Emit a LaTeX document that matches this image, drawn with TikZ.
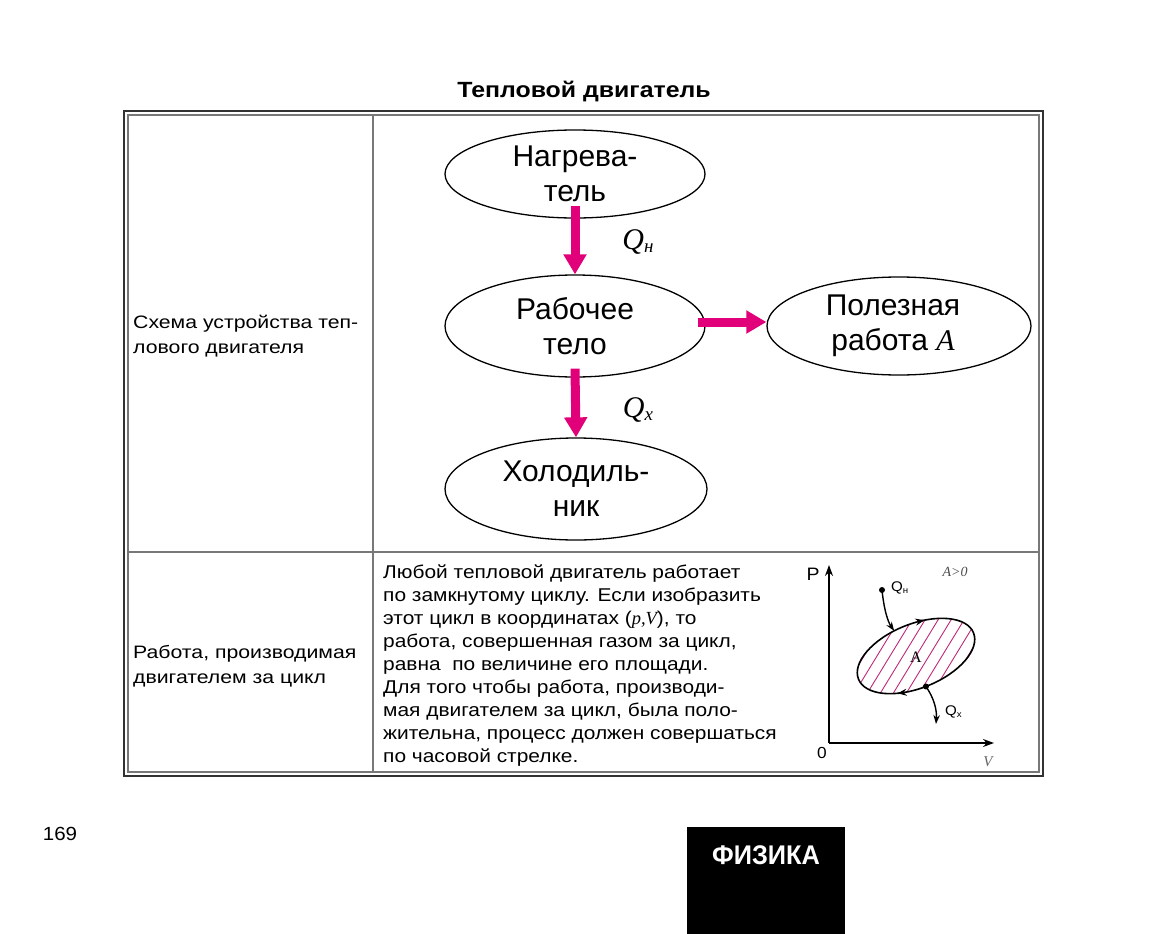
\documentclass[tikz,border=0pt]{standalone}
\usepackage{fontspec}
\setmainfont{Liberation Sans}[FakeStretch=1.08]
\newfontfamily\bodyfont{Liberation Sans}[FakeStretch=1.13]
\newfontfamily\leftfont{Liberation Sans}[FakeStretch=1.18]
\newfontfamily\ovalfont{Liberation Sans}
\newfontfamily\serifi{Liberation Serif}
\usetikzlibrary{shapes.geometric,arrows.meta,calc}
\definecolor{mag}{RGB}{226,0,122}
\definecolor{hatchc}{RGB}{190,40,120}
\definecolor{tabdark}{RGB}{50,50,50}
\definecolor{tabgray}{RGB}{120,120,120}
\begin{document}
\begin{tikzpicture}[x=1pt,y=-1pt,
  oval/.style={ellipse,draw=black,line width=1.3pt,inner sep=0pt,align=center,font=\ovalfont\fontsize{30}{35}\selectfont},
  bigarrow/.style={draw=mag,line width=9pt,-{Triangle[width=22pt,length=20pt]}},
  bodytext/.style={anchor=base west,inner sep=0pt,font=\bodyfont\fontsize{18.5}{18.5}\selectfont},
  lefttext/.style={anchor=base west,inner sep=0pt,font=\leftfont\fontsize{18}{18}\selectfont},
  qlabel/.style={inner sep=0pt,font=\serifi\itshape\fontsize{30}{30}\selectfont},
  axis/.style={line width=1.4pt,-{Stealth[length=11pt,width=8pt]}},
  flow/.style={line width=1.4pt,-{Stealth[length=9pt,width=6.5pt]}},
  cyclearrow/.style={line width=1.4pt,-{Stealth[length=9pt,width=7pt]}}]
\useasboundingbox (0,0) rectangle (1162,934);

% title
\node[font=\bodyfont\bfseries\fontsize{22}{22}\selectfont] (title) at (584,92) {Тепловой двигатель};

% table
\draw[line width=2.5pt,tabdark] (124,111) rectangle (1043,776);
\draw[line width=1.2pt,tabgray] (128,115) rectangle (1039,772);
\draw[line width=1.6pt,tabgray] (373,115) -- (373,772);
\draw[line width=1.6pt,tabgray] (128,552) -- (1039,552);

% left column
\node[lefttext] (l1) at (133,328) {Схема устройства теп-};
\node[lefttext] (l2) at (133,353) {лового двигателя};
\node[lefttext] (l3) at (133,658) {Работа, производимая};
\node[lefttext] (l4) at (133,683) {двигателем за цикл};

% scheme
\node[oval,minimum width=260pt,minimum height=88pt] (nag) at (575,174) {Нагрева-\\тель};
\node[oval,minimum width=260pt,minimum height=102pt] (rab) at (575,326) {Рабочее\\тело};
\node[oval,minimum width=262pt,minimum height=102pt] (hol) at (576,489) {Холодиль-\\ник};
\node[oval,minimum width=264pt,minimum height=98pt] (pol) at (899,326) {\hspace*{-12pt}Полезная\\\hspace*{-12pt}работа {\serifi\itshape A}};

\draw[bigarrow] ([yshift=13pt]nag.south) -- (rab.north);
\draw[bigarrow] ([yshift=9pt]rab.south) -- (hol.north);
\draw[bigarrow] ([xshift=-8pt,yshift=4pt]rab.east) -- ([yshift=4pt]pol.west);

\node[qlabel] (qh) at (638,242) {Q\raisebox{-3pt}{\fontsize{19}{19}\selectfont н}};
\node[qlabel] (qc) at (638,410) {Q\raisebox{-3pt}{\fontsize{19}{19}\selectfont x}};

% body text
\node[bodytext] (b1) at (383,578) {Любой тепловой двигатель работает};
\node[bodytext] (b2) at (383,601.1) {по замкнутому циклу. Если изобразить};
\node[bodytext] (b3) at (383,624.2) {этот цикл в координатах ({\serifi\itshape p,V}), то};
\node[bodytext] (b4) at (383,647.3) {работа, совершенная газом за цикл,};
\node[bodytext] (b5) at (383,670.4) {равна\ \ по величине его площади.};
\node[bodytext] (b6) at (383,693.5) {Для того чтобы работа, производи-};
\node[bodytext] (b7) at (383,716.6) {мая двигателем за цикл, была поло-};
\node[bodytext] (b8) at (383,739.7) {жительна, процесс должен совершаться};
\node[bodytext] (b9) at (383,762.8) {по часовой стрелке.};

% pV graph
\coordinate (O) at (829,743);
\coordinate (ptop) at (829,565);
\coordinate (vend) at (994,743);
\draw[axis] (O) -- (ptop);
\draw[axis] (O) -- (vend);
\node[font=\fontsize{18}{18}\selectfont] (plab) at (813,574) {P};
\node[font=\fontsize{16}{16}\selectfont] (zlab) at (822,753) {0};
\node[font=\serifi\itshape\fontsize{15}{15}\selectfont,text=black!60] (vlab) at (988,762) {V};
\node[font=\serifi\itshape\fontsize{14}{14}\selectfont,text=black!70] (apos) at (955,572) {A>0};

\begin{scope}
  \clip[rotate around={22:(916,656)}] (916,656) ellipse [x radius=62, y radius=32];
  \foreach \i in {-8,...,8} \draw[hatchc,line width=0.9pt] ({916+13*\i-61},756) -- ({916+13*\i+61},556);
\end{scope}
\draw[line width=1.6pt,rotate around={22:(916,656)}] (916,656) ellipse [x radius=62, y radius=32];
\begin{scope}[shift={(916,656)},rotate=22]
  \coordinate (ta0) at (20.0,-30.3);
  \coordinate (ta1) at (21.2,-30.1);
  \coordinate (ba0) at (-29.9,28.0);
  \coordinate (ba1) at (-31.0,27.7);
  \coordinate (qnt) at (-10.8,-31.5);
  \coordinate (qxd) at (-2.2,32.0);
\end{scope}
\draw[cyclearrow] (ta0) -- (ta1);
\draw[cyclearrow] (ba0) -- (ba1);
\node[font=\serifi\fontsize{16}{16}\selectfont] (alab) at (916,657) {A};

\coordinate (qnd) at (882,590);
\coordinate (qxt) at (936,724);
\fill (qnd) circle[radius=3pt];
\fill (qxd) circle[radius=3pt];
\draw[flow] (qnd) .. controls (884,610) and (888,622) .. (qnt);
\draw[flow] (qxd) .. controls (934,698) and (937,710) .. (qxt);
\node[anchor=west,inner sep=0pt,font=\fontsize{14}{14}\selectfont] (qhl) at (891,588) {Q\raisebox{-2pt}{\fontsize{9}{9}\selectfont н}};
\node[anchor=west,inner sep=0pt,font=\fontsize{14}{14}\selectfont] (qcl) at (945,712) {Q\raisebox{-2pt}{\fontsize{9}{9}\selectfont x}};

% page footer
\node[font=\fontsize{19}{19}\selectfont] (page) at (60,834) {169};
\fill[black] (687,827) rectangle (845,934);
\node[text=white,font=\bfseries\fontsize{27}{27}\selectfont] (phys) at (766,855) {\scalebox{0.87}[1]{ФИЗИКА}};
\end{tikzpicture}
\end{document}
